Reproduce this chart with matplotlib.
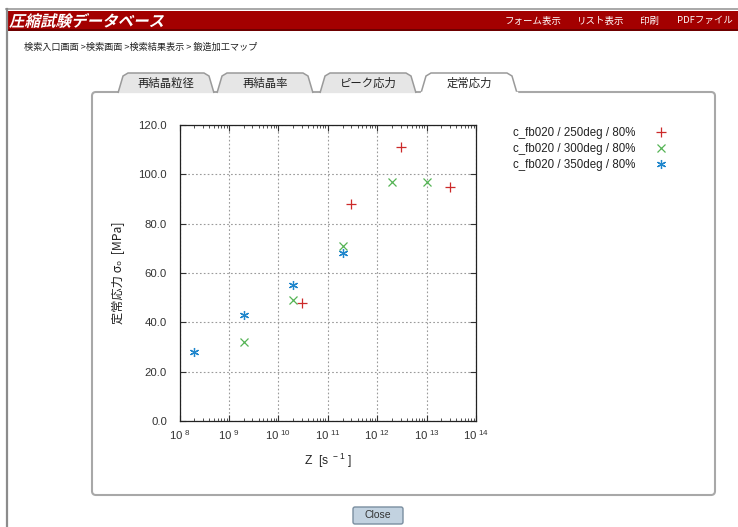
import numpy as np
import matplotlib
matplotlib.use("Agg")
import matplotlib.pyplot as plt
from matplotlib.patches import Rectangle, Polygon, FancyBboxPatch, PathPatch
from matplotlib.textpath import TextPath
from matplotlib.font_manager import FontProperties
from matplotlib.transforms import Affine2D
from matplotlib.ticker import LogLocator, MultipleLocator, FormatStrFormatter, NullFormatter, FuncFormatter

plt.rcParams["font.family"] = ["Liberation Sans", "Noto Sans CJK JP", "DejaVu Sans"]
plt.rcParams["mathtext.default"] = "regular"
JP = ["Noto Sans CJK JP", "DejaVu Sans"]

# series: strain rate parameter Z [1/s] and steady stress [MPa]
z_250 = [3e10, 3e11, 3e12, 3e13]
s_250 = [48, 88, 111, 95]
z_300 = [2e9, 2e10, 2e11, 2e12, 1e13]
s_300 = [32, 49, 71, 97, 97]
z_350 = [2e8, 2e9, 2e10, 2e11]
s_350 = [28, 43, 55, 68]
labels = ["c_fb020 / 250deg / 80%", "c_fb020 / 300deg / 80%", "c_fb020 / 350deg / 80%"]

tabs = ["再結晶粒径", "再結晶率", "ピーク応力", "定常応力"]
links = ["フォーム表示", "リスト表示", "印刷", "PDFファイル"]
crumb = "検索入口画面 >検索画面 >検索結果表示 > 鍛造加工マップ"

W, H = 738, 527
fig = plt.figure(figsize=(W / 100, H / 100), dpi=100)

# page chrome drawn in pixel coordinates
bg = fig.add_axes([0, 0, 1, 1])
bg.set_xlim(0, W); bg.set_ylim(H, 0); bg.axis("off")
bg.plot([6, W], [9, 9], color="#9a9a9a", lw=1.2)
bg.plot([6.5, 6.5], [9, H], color="#8c8c8c", lw=1.6)
bg.add_patch(Rectangle((7, 10.5), W - 7, 20.5, color="#a30000", lw=0))
bg.add_patch(Rectangle((7, 29), W - 7, 2, color="#6e0000", lw=0))

tp = TextPath((0, 0), "圧縮試験データベース", size=15.5,
              prop=FontProperties(family="Noto Sans CJK JP", weight="bold"))
tr = Affine2D().skew_deg(14, 0).scale(1, -1).translate(9, 26.5) + bg.transData
bg.add_patch(PathPatch(tp, transform=tr, color="white", lw=0))

for s, x in zip(links, [505, 577, 640, 677]):
    bg.text(x, 21, s, color="white", fontsize=6.8, family=JP, va="center", ha="left")
bg.text(24, 47.5, crumb, color="#222222", fontsize=6.6, family=JP, va="center", ha="left")

# panel
bg.add_patch(FancyBboxPatch((92, 92), 623, 403, boxstyle="round,pad=0,rounding_size=4",
                            fc="white", ec="#a8a8a8", lw=1.5))
tab_x = [118, 217, 320, 421]
for i, (s, x0) in enumerate(zip(tabs, tab_x)):
    w = 96
    pts = [(x0, 93), (x0 + 5, 76), (x0 + 10, 73), (x0 + w - 10, 73), (x0 + w - 5, 76), (x0 + w, 93)]
    active = i == len(tabs) - 1
    bg.add_patch(Polygon(pts, closed=False, fc="white" if active else "#e6e6e6",
                         ec="#9a9a9a", lw=1.1))
    if active:
        bg.plot([x0 + 1, x0 + w - 1], [93, 93], color="white", lw=2.5)
    bg.text(x0 + w / 2, 83, s, fontsize=8.2, family=JP, color="#222222",
            ha="center", va="center")

# close button
bg.add_patch(FancyBboxPatch((353, 507), 50, 17, boxstyle="round,pad=0,rounding_size=2",
                            fc="#c2d2e0", ec="#7a8ea0", lw=1))
bg.text(378, 515.5, "Close", fontsize=7.5, color="#333333", ha="center", va="center")

# chart
ax = fig.add_axes([179.5 / W, 1 - 421 / H, 296.5 / W, 296 / H])
c_red, c_green, c_blue = "#cc2a2a", "#55b455", "#1f86cc"
asterisk = (6, 2, 0)
ax.plot(z_250, s_250, "+", color=c_red, ms=6.5, mew=0.9, ls="none", label=labels[0])
ax.plot(z_300, s_300, "x", color=c_green, ms=6, mew=0.9, ls="none", label=labels[1])
ax.plot(z_350, s_350, marker=asterisk, color=c_blue, ms=6.5, mew=0.9, ls="none", label=labels[2])

ax.set_xscale("log")
ax.set_xlim(1e8, 1e14)
ax.set_ylim(0, 120)
ax.xaxis.set_major_locator(LogLocator(base=10, numticks=10))
ax.xaxis.set_major_formatter(FuncFormatter(lambda v, p: "10$^{\\ %d}$" % round(np.log10(v))))
ax.xaxis.set_minor_locator(LogLocator(base=10, subs=np.arange(2, 10), numticks=20))
ax.xaxis.set_minor_formatter(NullFormatter())
ax.yaxis.set_major_locator(MultipleLocator(20))
ax.yaxis.set_major_formatter(FormatStrFormatter("%.1f"))
ax.tick_params(which="both", direction="in", top=True, right=True, colors="#333333",
               labelsize=8.2, labelcolor="#333333")
ax.tick_params(which="major", length=4, width=0.8)
ax.tick_params(which="minor", length=2, width=0.6)
ax.tick_params(axis="y", pad=9)
ax.tick_params(axis="x", pad=5)
ax.grid(True, which="major", ls=(0, (1.5, 2)), color="#9a9a9a", lw=0.8)
for sp in ax.spines.values():
    sp.set_color("#222222"); sp.set_linewidth(0.9)

ax.set_xlabel("Z  [s$^{\\ -1}$ ]", fontsize=8.8, color="#222222", labelpad=7)
ax.set_ylabel("定常応力 σₒ  [MPa]", fontsize=8.8, color="#222222", family=JP, labelpad=10)

fig.legend(loc="upper left", bbox_to_anchor=(503 / W, 1 - 117 / H), frameon=False,
           markerfirst=False, fontsize=8.3, handlelength=1.2, handletextpad=1.6,
           labelspacing=0.35, labelcolor="#222222")

fig.savefig("out.png", dpi=100)
